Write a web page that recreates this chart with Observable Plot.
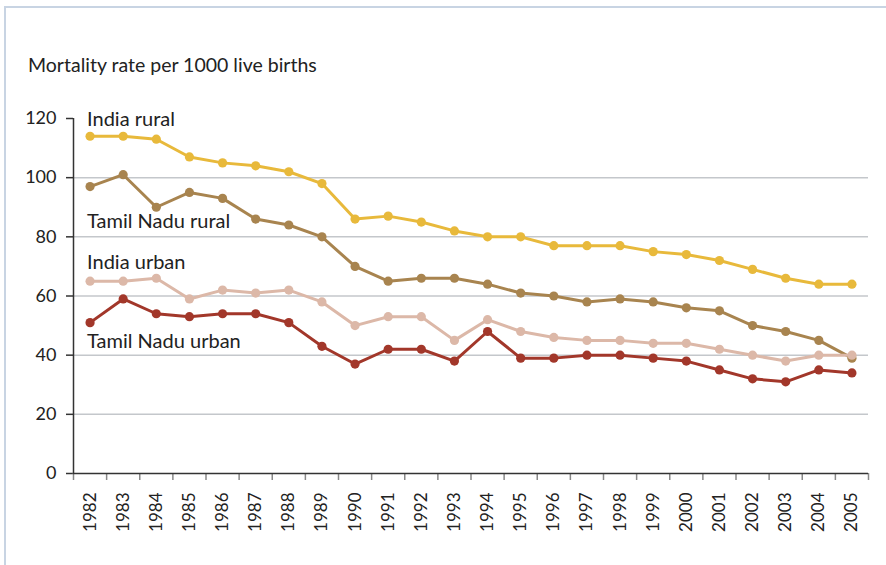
<!DOCTYPE html>
<html><head><meta charset="utf-8">
<script src="https://cdn.jsdelivr.net/npm/d3@7"></script>
<script src="https://cdn.jsdelivr.net/npm/@observablehq/plot@0.6"></script>
<style>
html,body{margin:0;padding:0;background:#fff;}
#wrap{position:relative;width:886px;height:565px;overflow:hidden;font-family:Lato,"Open Sans",sans-serif;}
#chart{position:absolute;left:0;top:0;}
#frame{position:absolute;left:4px;top:6px;width:2000px;height:2000px;border-left:2px solid #c8d4e3;border-top:2px solid #c8d4e3;pointer-events:none;}
#title{position:absolute;left:28px;top:53px;font-size:19.5px;color:#222;white-space:nowrap;}
</style></head>
<body><div id="wrap"><div id="chart"></div><div id="title">Mortality rate per 1000 live births</div><div id="frame"></div></div>
<script>
const years = [1982,1983,1984,1985,1986,1987,1988,1989,1990,1991,1992,1993,1994,1995,1996,1997,1998,1999,2000,2001,2002,2003,2004,2005];
const indiaRural     = [114,114,113,107,105,104,102,98,86,87,85,82,80,80,77,77,77,75,74,72,69,66,64,64];
const tamilNaduRural = [97,101,90,95,93,86,84,80,70,65,66,66,64,61,60,58,59,58,56,55,50,48,45,39];
const indiaUrban     = [65,65,66,59,62,61,62,58,50,53,53,45,52,48,46,45,45,44,44,42,40,38,40,40];
const tamilNaduUrban = [51,59,54,53,54,54,51,43,37,42,42,38,48,39,39,40,40,39,38,35,32,31,35,34];
const seriesNames = ["India rural","Tamil Nadu rural","India urban","Tamil Nadu urban"];
const seriesColors = ["#e8b93b","#a8844f","#dcb8a8","#a2372a"];
const yTicks = [0,20,40,60,80,100,120];
const labelY = [119.5, 85, 71.3, 44.6];

const seriesValues = [indiaRural, tamilNaduRural, indiaUrban, tamilNaduUrban];
const data = seriesNames.flatMap((name, s) => years.map((year, i) => ({year, value: seriesValues[s][i], series: name})));
const labels = seriesNames.map((name, i) => ({name, year: years[0], y: labelY[i]}));
const boundaries = years.map(y => y - 0.5).concat([years[years.length - 1] + 0.5]);

const chart = Plot.plot({
  width: 886, height: 565,
  marginLeft: 73, marginRight: 18, marginTop: 118, marginBottom: 92,
  style: {background: "transparent", fontFamily: "Lato, 'Open Sans', sans-serif", fontSize: "16px", color: "#222"},
  x: {type: "linear", domain: [boundaries[0], boundaries[boundaries.length - 1]]},
  y: {domain: [0, 120]},
  color: {domain: seriesNames, range: seriesColors},
  marks: [
    Plot.gridY(yTicks.filter(d => d > 0 && d < 120), {stroke: "#c4c7cb", strokeOpacity: 1, strokeWidth: 1.5}),
    Plot.line(data, {x: "year", y: "value", z: "series", stroke: "series", strokeWidth: 3}),
    Plot.dot(data, {x: "year", y: "value", fill: "series", r: 4.6}),
    Plot.axisY({ticks: yTicks, tickSize: 7, tickPadding: 10, label: null, stroke: "#333", strokeWidth: 1.5, fontSize: 18, fill: "#222"}),
    Plot.axisX({ticks: boundaries, tickSize: 7, tickFormat: () => "", label: null, stroke: "#888", strokeWidth: 1.5}),
    Plot.axisX({ticks: years, tickSize: 0, tickPadding: 19, tickRotate: -90, tickFormat: d => String(d), label: null, fontSize: 17, fill: "#222"}),
    Plot.ruleX([boundaries[0]], {stroke: "#333", strokeWidth: 1.5}),
    Plot.ruleY([0], {stroke: "#333", strokeWidth: 1.5}),
    Plot.text(labels, {x: "year", y: "y", text: "name", textAnchor: "start", dx: -3, fontSize: 20, fill: "#222"})
  ]
});
document.getElementById("chart").appendChild(chart);
</script>
</body></html>
